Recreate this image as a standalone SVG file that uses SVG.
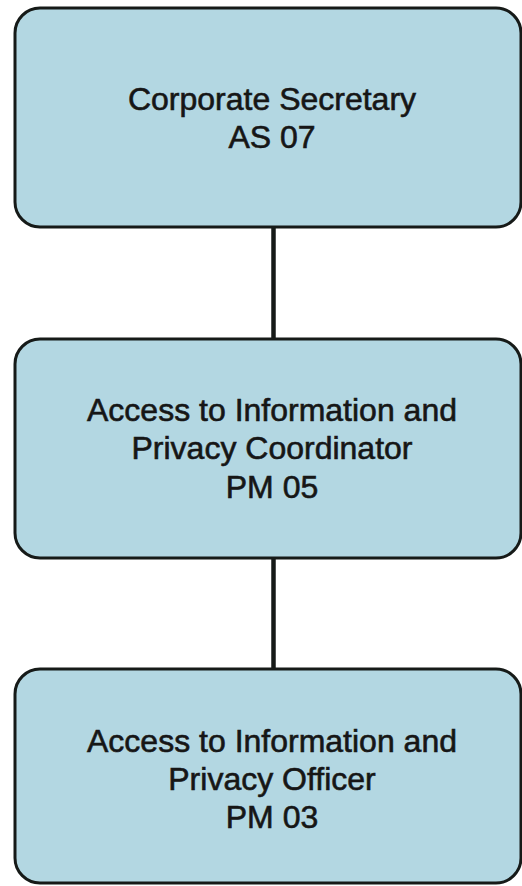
<svg xmlns="http://www.w3.org/2000/svg" width="522" height="886" viewBox="0 0 522 886">
<style>
.box{fill:#b3d7e2;stroke:#161a18;stroke-width:3}
.lbl{font-family:"Liberation Sans",Arial,sans-serif;font-size:32px;fill:#161616;stroke:#161616;stroke-width:0.6;text-anchor:middle}
.conn{stroke:#161a18;stroke-width:4.5;fill:none}
</style>
<rect width="522" height="886" fill="#ffffff"/>
<g id="connectors">
<line class="conn" x1="273.5" y1="227" x2="273.5" y2="339"/>
<line class="conn" x1="273.5" y1="558" x2="273.5" y2="669"/>
</g>
<g id="node-corporate-secretary">
<rect class="box" x="15" y="8" width="506" height="219" rx="25" ry="25"/>
<text class="lbl" x="272" y="110">Corporate Secretary</text>
<text class="lbl" x="272" y="148">AS 07</text>
</g>
<g id="node-atip-coordinator">
<rect class="box" x="15" y="339" width="506" height="219" rx="25" ry="25"/>
<text class="lbl" x="272" y="421">Access to Information and</text>
<text class="lbl" x="272" y="459">Privacy Coordinator</text>
<text class="lbl" x="272" y="498">PM 05</text>
</g>
<g id="node-atip-officer">
<rect class="box" x="15" y="669" width="506" height="214" rx="25" ry="25"/>
<text class="lbl" x="272" y="752">Access to Information and</text>
<text class="lbl" x="272" y="790">Privacy Officer</text>
<text class="lbl" x="272" y="828">PM 03</text>
</g>
</svg>
